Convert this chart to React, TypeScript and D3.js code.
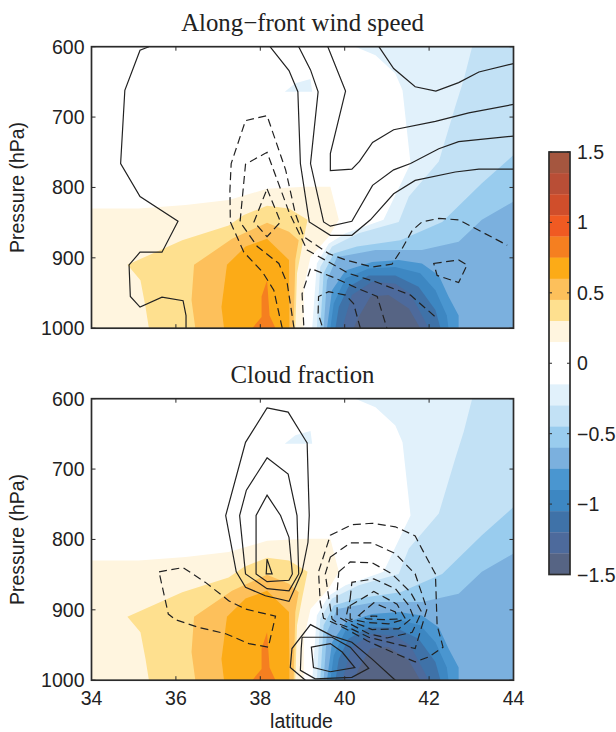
import React from "react";
import * as d3 from "d3";

type Pt = [number, number];
type Contour = { pts: Pt[]; closed: boolean };

const xTicks = [34, 36, 38, 40, 42, 44];
const pTicks = [600, 700, 800, 900, 1000];
const barTicks = [1.5, 1, 0.5, 0, -0.5, -1, -1.5];
const barEdges = [1.5, 1.35, 1.2, 1.05, 0.9, 0.75, 0.6, 0.45, 0.3, 0.15, -0.15, -0.3, -0.45, -0.6, -0.75, -0.9, -1.05, -1.2, -1.35, -1.5];
const barColors = ["#A5563F", "#B94E36", "#D04E2B", "#F05A22", "#F57F20", "#FCAB17", "#FDC05B", "#FEE08F", "#FFF5DF", "#FFFFFF", "#E1F1FB", "#C2E1F5", "#99CCEE", "#7BB0DE", "#4A96D0", "#3D87C2", "#3F72A8", "#4D6A9C", "#566484"];

const warm1: Pt[] = [[34, 830], [35.12, 830], [36.23, 825], [37.25, 818], [38.16, 802], [39.07, 799], [39.66, 799], [39.86, 846], [39.62, 870], [39.19, 899], [39.03, 941], [39.03, 1000], [34, 1000]];
const warm2: Pt[] = [[34.85, 910], [36.15, 875], [37.25, 854], [37.61, 839], [38.16, 826], [38.68, 830], [39.12, 846], [38.99, 884], [38.87, 922], [38.83, 1000], [35.36, 1000], [35.28, 970], [35.16, 932]];
const warm3: Pt[] = [[36.43, 910], [37.33, 873], [38.16, 850], [38.68, 863], [38.91, 875], [38.83, 903], [38.79, 1000], [36.46, 1000], [36.37, 960]];
const warm4: Pt[] = [[37.21, 910], [37.65, 884], [38.16, 873], [38.68, 903], [38.69, 1000], [37.14, 1000], [37.08, 970]];
const warm5: Pt[] = [[38.16, 932], [38.03, 955], [38.03, 984], [37.81, 1000], [38.36, 1000], [38.22, 982]];
const coolPatch: Pt[] = [[38.58, 664], [38.83, 652], [39.19, 646], [39.23, 664]];
const cool1: Pt[] = [[40.25, 600], [40.73, 612], [41.2, 638], [41.37, 662], [41.56, 766], [40.92, 846], [40.02, 865], [39.62, 880], [39.34, 908], [39.23, 1000], [44, 1000], [44, 600]];
const cool2: Pt[] = [[43.02, 600], [42.82, 647], [42.62, 685], [42.23, 763], [41.52, 813], [41.28, 849], [40.33, 865], [39.7, 884], [39.42, 913], [39.34, 1000], [44, 1000], [44, 600]];
const cool3: Pt[] = [[44, 754], [43.25, 794], [42.31, 849], [41.32, 875], [40.29, 884], [39.74, 894], [39.5, 922], [39.42, 1000], [44, 1000]];
const cool4: Pt[] = [[44, 820], [43.25, 846], [42.7, 877], [41.83, 889], [40.73, 889], [39.82, 899], [39.58, 932], [39.5, 1000], [44, 1000]];
const cool5: Pt[] = [[42.7, 1000], [42.7, 982], [42.46, 955], [42.23, 925], [41.83, 908], [41.28, 903], [40.65, 906], [40.02, 918], [39.7, 946], [39.58, 1000]];
const cool6: Pt[] = [[42.46, 1000], [42.42, 982], [42.15, 946], [41.79, 922], [41.2, 913], [40.57, 915], [40.02, 929], [39.74, 965], [39.66, 1000]];
const cool7: Pt[] = [[42.27, 1000], [42.15, 974], [41.75, 941], [41.2, 925], [40.57, 925], [40.09, 941], [39.86, 970], [39.78, 1000]];
const cool8: Pt[] = [[41.99, 1000], [41.56, 951], [41.2, 937], [40.65, 934], [40.17, 953], [39.94, 1000]];
const cool9: Pt[] = [[41.79, 1000], [41.52, 972], [41.04, 953], [40.61, 955], [40.33, 984], [40.21, 1000]];

const fills: { pts: Pt[]; color: string }[] = [
  { pts: warm1, color: barColors[8] },
  { pts: warm2, color: barColors[7] },
  { pts: warm3, color: barColors[6] },
  { pts: warm4, color: barColors[5] },
  { pts: warm5, color: barColors[4] },
  { pts: coolPatch, color: barColors[10] },
  { pts: cool1, color: barColors[10] },
  { pts: cool2, color: barColors[11] },
  { pts: cool3, color: barColors[12] },
  { pts: cool4, color: barColors[13] },
  { pts: cool5, color: barColors[14] },
  { pts: cool6, color: barColors[15] },
  { pts: cool7, color: barColors[16] },
  { pts: cool8, color: barColors[17] },
  { pts: cool9, color: barColors[18] },
];

const windSolid: Contour[] = [
  { closed: false, pts: [[35.36, 600], [35.15, 605], [34.79, 662], [34.69, 766], [35.15, 813], [36.05, 848], [35.67, 892], [35.15, 892], [34.89, 910], [34.92, 955], [35.15, 970], [35.67, 956], [36.17, 961], [36.24, 982], [36.24, 1000]] },
  { closed: false, pts: [[38.23, 600], [38.68, 634], [38.89, 664], [38.95, 766], [39.16, 849], [39.66, 868], [40.17, 868], [40.61, 846], [41.16, 809], [41.67, 790], [42.62, 778], [43.18, 774], [44, 774]] },
  { closed: false, pts: [[38.91, 600], [39.19, 633], [39.37, 664], [39.19, 766], [39.5, 849], [39.66, 855], [40.17, 848], [40.66, 797], [41.16, 775], [41.56, 766], [42.23, 745], [42.7, 735], [44, 727]] },
  { closed: false, pts: [[39.6, 600], [40.02, 663], [39.66, 752], [39.66, 776], [40.17, 774], [40.35, 763], [40.66, 736], [41.16, 718], [42.15, 706], [42.94, 694], [44, 682]] },
  { closed: false, pts: [[40.81, 600], [41.16, 631], [41.67, 657], [42.16, 663], [42.7, 651], [43.18, 636], [44, 624]] },
];
const windDashed: Contour[] = [
  { closed: false, pts: [[38.52, 1000], [38.32, 946], [38.05, 920], [37.61, 892], [37.29, 849], [37.28, 804], [37.31, 766], [37.65, 705], [38.16, 698], [38.6, 775], [38.83, 837], [39.03, 870], [39.62, 894], [40.02, 903], [40.65, 913], [41.12, 909], [41.36, 887], [41.6, 861], [41.83, 849], [42.23, 844], [42.7, 846], [43.85, 882]] },
  { closed: false, pts: [[38.8, 1000], [38.64, 937], [38.44, 908], [37.93, 884], [37.52, 849], [37.65, 767], [38.16, 750], [38.68, 835], [39.0, 875], [39.11, 889], [39.62, 906], [40.09, 922], [40.73, 934], [41.56, 953], [42.15, 984]] },
  { closed: true, pts: [[38.16, 802], [38.48, 849], [38.16, 870], [37.85, 849]] },
  { closed: false, pts: [[39.03, 996], [38.99, 951], [39.19, 915], [39.78, 929], [40.33, 944], [40.77, 955], [41.0, 1000]] },
  { closed: false, pts: [[39.46, 996], [39.37, 979], [39.38, 955], [39.62, 948], [40.02, 953], [40.21, 965], [40.37, 1000]] },
  { closed: true, pts: [[42.11, 908], [42.7, 903], [42.9, 910], [42.7, 935], [42.19, 925]] },
];
const cloudSolid: Contour[] = [
  { closed: true, pts: [[38.16, 613], [38.66, 619], [39.07, 659], [39.11, 663], [39.16, 766], [39.13, 804], [38.99, 846], [38.68, 888], [38.12, 880], [37.65, 868], [37.43, 846], [37.18, 766], [37.65, 662]] },
  { closed: true, pts: [[38.16, 684], [38.66, 707], [38.87, 766], [38.91, 849], [38.68, 873], [38.16, 870], [37.65, 849], [37.51, 766], [37.67, 730]] },
  { closed: true, pts: [[38.16, 737], [38.48, 766], [38.68, 797], [38.76, 849], [38.68, 858], [38.16, 860], [37.9, 849], [37.9, 766]] },
  { closed: true, pts: [[38.16, 828], [38.28, 849], [38.14, 849]] },
  { closed: false, pts: [[39.07, 1000], [38.71, 982], [38.75, 955], [39.19, 921], [39.7, 937], [40.17, 946], [40.65, 970], [41.2, 1000]] },
  { closed: true, pts: [[38.99, 939], [39.7, 939], [40.13, 953], [40.57, 983], [40.17, 996], [39.3, 998], [38.95, 986], [38.97, 955]] },
  { closed: true, pts: [[39.21, 953], [39.66, 948], [39.94, 960], [40.24, 982], [39.66, 988], [39.26, 982]] },
];
const cloudDashed: Contour[] = [
  { closed: true, pts: [[35.6, 846], [36.17, 840], [36.7, 861], [37.25, 887], [37.65, 899], [38.36, 909], [38.19, 953], [37.73, 948], [37.18, 934], [36.54, 925], [35.99, 914], [35.82, 906]] },
  { closed: true, pts: [[39.66, 794], [40.17, 779], [40.65, 777], [41.2, 782], [41.67, 795], [41.87, 818], [42.15, 849], [42.19, 922], [42.33, 953], [41.99, 967], [41.67, 974], [41.12, 960], [40.53, 944], [40.09, 929], [39.86, 922], [39.5, 912], [39.42, 889], [39.38, 846]] },
  { closed: true, pts: [[39.66, 825], [40.13, 805], [40.65, 805], [41.2, 820], [41.67, 849], [41.95, 899], [41.67, 955], [41.04, 946], [40.57, 939], [40.09, 925], [39.86, 920], [39.7, 913], [39.62, 882], [39.54, 849]] },
  { closed: true, pts: [[39.86, 846], [40.13, 832], [40.65, 833], [41.12, 849], [41.56, 875], [41.82, 903], [41.6, 932], [41.0, 940], [40.57, 934], [40.13, 920], [39.82, 909], [39.82, 875]] },
  { closed: true, pts: [[40.13, 884], [40.17, 861], [40.69, 856], [41.2, 870], [41.52, 894], [41.63, 910], [41.28, 927], [40.65, 928], [40.02, 913]] },
  { closed: true, pts: [[40.13, 894], [40.69, 874], [41.24, 892], [41.44, 913], [41.04, 920], [40.53, 918], [40.13, 913]] },
  { closed: true, pts: [[40.33, 908], [40.69, 890], [41.2, 903], [41.24, 913], [40.96, 914], [40.53, 913]] },
  { closed: true, pts: [[40.61, 909], [40.77, 909], [40.69, 911]] },
];

const sans = "'Liberation Sans', Arial, sans-serif";
const serif = "'Liberation Serif', 'Times New Roman', serif";
const ink = "#2b2b2b";
const fmt = (v: number) => String(v).replace("-", "\u2212");

const x = d3.scaleLinear().domain([34, 44]).range([91.5, 513.5]);

function Panel({ id, top, title, solid, dashed, showX }: { id: string; top: number; title: string; solid: Contour[]; dashed: Contour[]; showX: boolean }) {
  const y = d3.scaleLinear().domain([600, 1000]).range([top, top + 281.5]);
  const open = d3.line<Pt>().x((d) => x(d[0])).y((d) => y(d[1]));
  const shut = d3.line<Pt>().x((d) => x(d[0])).y((d) => y(d[1])).curve(d3.curveLinearClosed);
  const [x0, x1] = x.range();
  const [y0, y1] = y.range();
  return (
    <g>
      <clipPath id={id}>
        <rect x={x0} y={y0} width={x1 - x0} height={y1 - y0} />
      </clipPath>
      <g clipPath={`url(#${id})`}>
        {fills.map((f, i) => (
          <path key={i} d={shut(f.pts) ?? ""} fill={f.color} />
        ))}
        {solid.map((c, i) => (
          <path key={i} d={(c.closed ? shut : open)(c.pts) ?? ""} fill="none" stroke="#222" strokeWidth={1.2} />
        ))}
        {dashed.map((c, i) => (
          <path key={i} d={(c.closed ? shut : open)(c.pts) ?? ""} fill="none" stroke="#222" strokeWidth={1.2} strokeDasharray="8 4.5" />
        ))}
      </g>
      <rect x={x0} y={y0} width={x1 - x0} height={y1 - y0} fill="none" stroke={ink} strokeWidth={1.7} />
      {xTicks.map((t) => (
        <g key={t}>
          <line x1={x(t)} x2={x(t)} y1={y1} y2={y1 - 4} stroke={ink} strokeWidth={1} />
          <line x1={x(t)} x2={x(t)} y1={y0} y2={y0 + 4} stroke={ink} strokeWidth={1} />
          {showX && (
            <text x={x(t)} y={y1 + 25} textAnchor="middle" fontFamily={sans} fontSize={19.5} fill="#222">
              {t}
            </text>
          )}
        </g>
      ))}
      {pTicks.map((t) => (
        <g key={t}>
          <line x1={x0} x2={x0 + 4} y1={y(t)} y2={y(t)} stroke={ink} strokeWidth={1} />
          <line x1={x1} x2={x1 - 4} y1={y(t)} y2={y(t)} stroke={ink} strokeWidth={1} />
          <text x={x0 - 7} y={y(t) + 7} textAnchor="end" fontFamily={sans} fontSize={19.5} fill="#222">
            {t}
          </text>
        </g>
      ))}
      <text transform={`translate(24,${(y0 + y1) / 2}) rotate(-90)`} textAnchor="middle" fontFamily={sans} fontSize={19.5} fill="#222">
        Pressure (hPa)
      </text>
      <text x={(x0 + x1) / 2} y={y0 - 16} textAnchor="middle" fontFamily={serif} fontSize={24.8} fill="#222">
        {title}
      </text>
    </g>
  );
}

function ColorBar() {
  const v = d3.scaleLinear().domain([1.5, -1.5]).range([152, 574.5]);
  const bx0 = 549;
  const bx1 = 570;
  return (
    <g>
      {barColors.map((c, i) => (
        <rect key={i} x={bx0} width={bx1 - bx0} y={v(barEdges[i])} height={v(barEdges[i + 1]) - v(barEdges[i]) + 0.3} fill={c} />
      ))}
      <rect x={bx0} y={152} width={bx1 - bx0} height={422.5} fill="none" stroke={ink} strokeWidth={1.7} />
      {barTicks.map((t) => (
        <g key={t}>
          <line x1={bx0} x2={bx0 + 3} y1={v(t)} y2={v(t)} stroke={ink} strokeWidth={1} />
          <line x1={bx1} x2={bx1 - 3} y1={v(t)} y2={v(t)} stroke={ink} strokeWidth={1} />
          <text x={577} y={v(t) + 7} fontFamily={sans} fontSize={19.5} fill="#222">
            {fmt(t)}
          </text>
        </g>
      ))}
    </g>
  );
}

export default function App() {
  return (
    <svg width={616} height={732} viewBox="0 0 616 732" style={{ position: "absolute", left: 0, top: 0, background: "#fff" }}>
      <Panel id="clipWind" top={46.7} title={"Along\u2212front wind speed"} solid={windSolid} dashed={windDashed} showX={false} />
      <Panel id="clipCloud" top={398.7} title="Cloud fraction" solid={cloudSolid} dashed={cloudDashed} showX={true} />
      <text x={301.5} y={727.5} textAnchor="middle" fontFamily={sans} fontSize={19.5} fill="#222">
        latitude
      </text>
      <ColorBar />
    </svg>
  );
}
